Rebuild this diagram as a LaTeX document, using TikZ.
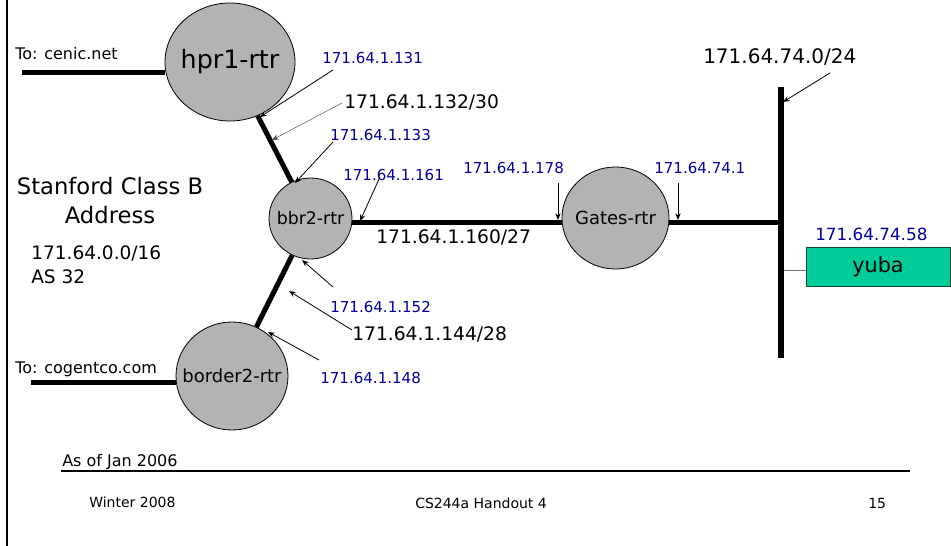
\documentclass[tikz,border=0pt]{standalone}
\usepackage{fontspec}
\setmainfont{DejaVu Sans}
\usetikzlibrary{shapes.geometric,arrows.meta,backgrounds}

\definecolor{addrblue}{RGB}{0,0,160}
\definecolor{routergray}{RGB}{179,179,179}
\definecolor{hostgreen}{RGB}{0,204,153}
\definecolor{hostedge}{RGB}{20,70,50}

\newcommand{\fsz}[1]{\fontsize{#1}{#1}\selectfont}
% router names are set in a zero-width box so the ellipse keeps its given size
\newcommand{\rname}[1]{\makebox[0pt]{#1}}

\begin{document}
\begin{tikzpicture}[x=0.75pt,y=-0.75pt,
  router/.style={ellipse,draw=black,line width=0.6pt,fill=routergray,inner sep=0pt},
  link/.style={line width=3.75pt},
  bus/.style={line width=4.5pt},
  pointer/.style={line width=0.6pt,-{Stealth[length=5pt,width=4pt]}},
  faint/.style={line width=0.35pt,draw=black!70,-{Stealth[length=5pt,width=4pt]}},
  addr/.style={text=addrblue,anchor=base west,inner sep=0pt,font=\fsz{11.3}},
  net/.style={anchor=base west,inner sep=0pt,font=\fsz{14}},
  txt/.style={anchor=base west,inner sep=0pt}]

\useasboundingbox (0,0) rectangle (951,546);

% routers
\node[router,minimum width=97.5pt,minimum height=88.5pt,font=\fsz{19}] (hpr1) at (230,62) {\rname{hpr1-rtr}};
\node[router,minimum width=62.25pt,minimum height=60.75pt,font=\fsz{13}] (bbr2) at (310.5,218.5) {\rname{bbr2-rtr}};
\node[router,minimum width=84pt,minimum height=81pt,font=\fsz{13.5}] (border2) at (232,376) {\rname{border2-rtr}};
\node[router,minimum width=80.25pt,minimum height=76.5pt,font=\fsz{13.5}] (gates) at (615.5,218) {\rname{Gates-rtr}};

% host on the 171.64.74.0/24 segment
\node[draw=hostedge,line width=0.75pt,fill=hostgreen,minimum width=108pt,minimum height=29.25pt,
      inner sep=0pt,font=\fsz{15.5}] (yuba) at (878,266.5) {yuba};

% ethernet segment end points
\coordinate (bartop) at (781,87);
\coordinate (barbot) at (781,358);
\coordinate (barjoin) at (781,222);
\coordinate (hostjoin) at (781,270);

% external feeds
\coordinate (cenic) at (22,72.5);
\coordinate (cogent) at (31,382);

\begin{scope}[on background layer]
  \fill[white] (0,0) rectangle (951,546);
  \draw[link] (cenic) -- (cenic -| hpr1.west);
  \draw[link] (cogent) -- (cogent -| border2.west);
  \draw[link] (hpr1) -- (bbr2);
  \draw[link] (bbr2) -- (border2);
  \draw[link] (bbr2.east |- barjoin) -- (gates.west |- barjoin);
  \draw[link] (gates.east |- barjoin) -- (barjoin);
  \draw[line width=0.6pt,draw=black!55] (hostjoin) -- (yuba.west |- hostjoin);
\end{scope}
\draw[bus] (bartop) -- (barbot);

% page frame
\coordinate (frametop) at (7,0);
\coordinate (framebot) at (7,546);
\draw[line width=1.5pt] (frametop) -- (framebot);

% side notes
\node[txt,font=\fsz{12}] (tocenic) at (15,60) {To: cenic.net};
\node[txt,font=\fsz{12}] (tocogent) at (15,373) {To: cogentco.com};
\node[anchor=base,inner sep=0pt,font=\fsz{17}] (stanford) at (110,194) {Stanford Class B};
\node[anchor=base,inner sep=0pt,font=\fsz{17}] (address) at (110,223) {Address};
\node[txt,font=\fsz{13.9}] (prefix) at (31,259) {171.64.0.0/16};
\node[txt,font=\fsz{13.9}] (asnum) at (31,283) {AS 32};

% interface and subnet labels
\node[addr] (l131) at (322,63) {171.64.1.131};
\node[net] (l132) at (344,108) {171.64.1.132/30};
\node[addr] (l133) at (330,140) {171.64.1.133};
\node[addr] (l161) at (343,180) {171.64.1.161};
\node[addr] (l178) at (463,173) {171.64.1.178};
\node[addr] (l741) at (654,173) {171.64.74.1};
\node[net] (l160) at (376,243) {171.64.1.160/27};
\node[net,font=\fsz{15}] (l740) at (703,63) {171.64.74.0/24};
\node[addr,font=\fsz{12.6}] (l7458) at (815,240) {171.64.74.58};
\node[addr] (l152) at (330,312) {171.64.1.152};
\node[net] (l144) at (352,340) {171.64.1.144/28};
\node[addr] (l148) at (320,383) {171.64.1.148};

% pointers from labels
\coordinate (t131) at (333,70);  \coordinate (h131) at (260,117);
\coordinate (t132) at (342,103); \coordinate (h132) at (272,140);
\coordinate (t133) at (333,142); \coordinate (h133) at (295,183);
\coordinate (t161) at (380,177); \coordinate (h161) at (360,221);
\coordinate (t178) at (558,183); \coordinate (h178) at (558,220);
\coordinate (t741) at (678,183); \coordinate (h741) at (678,220);
\coordinate (t740) at (830,73);  \coordinate (h740) at (783,102);
\coordinate (t152) at (333,287); \coordinate (h152) at (302,260);
\coordinate (t144) at (352,330); \coordinate (h144) at (289,291);
\coordinate (t148) at (319,360); \coordinate (h148) at (268,332);

\draw[pointer] (t131) -- (h131);
\draw[faint] (t132) -- (h132);
\draw[pointer] (t133) -- (h133);
\draw[pointer] (t161) -- (h161);
\draw[pointer] (t178) -- (h178);
\draw[pointer] (t741) -- (h741);
\draw[pointer] (t740) -- (h740);
\draw[pointer] (t152) -- (h152);
\draw[pointer] (t144) -- (h144);
\draw[pointer] (t148) -- (h148);

% footer
\node[txt,font=\fsz{12}] (asof) at (62,466) {As of Jan 2006};
\coordinate (rulel) at (61,471);
\coordinate (ruler) at (910,471);
\draw[line width=0.9pt] (rulel) -- (ruler);
\node[txt,font=\fsz{10.5}] (term) at (89,507) {Winter 2008};
\node[txt,font=\fsz{10.5}] (course) at (415,508) {CS244a Handout 4};
\node[txt,font=\fsz{10.5}] (page) at (868,508) {15};
\end{tikzpicture}
\end{document}
